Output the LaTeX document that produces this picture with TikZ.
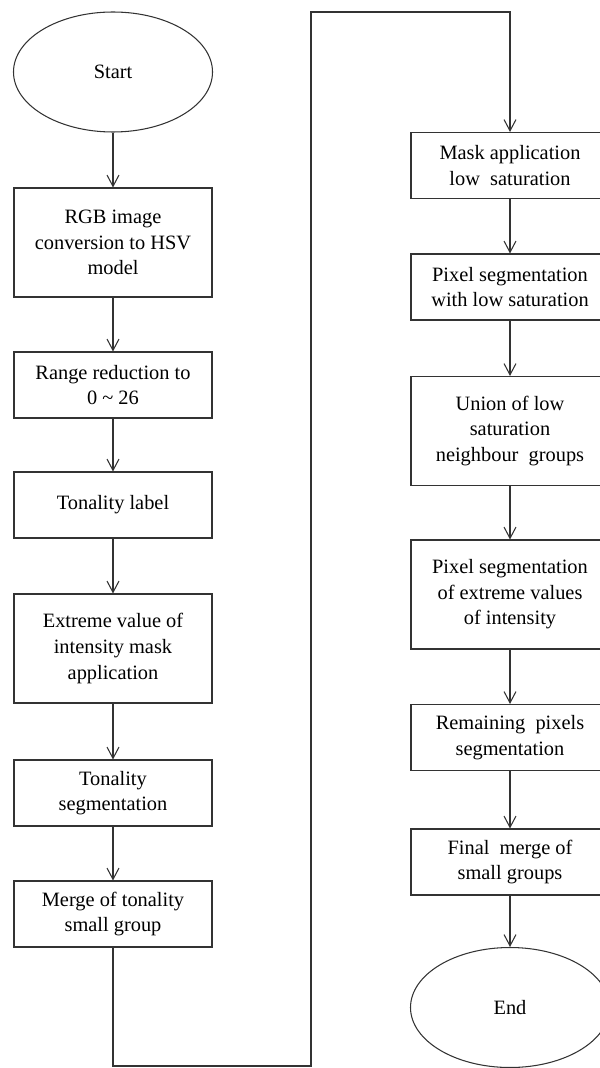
\documentclass[tikz,border=0pt]{standalone}
\usepackage{fontspec}
\setmainfont{Liberation Serif}
\usetikzlibrary{shapes.geometric,arrows.meta}
\tikzset{
  txt/.style={font=\fontsize{17.4}{21.8}\selectfont},
  box/.style={draw=black!80, line width=0.9pt, minimum width=59.4mm, minimum height=19.8mm, align=center, inner sep=0pt, txt},
  tallbox/.style={box, minimum height=32.7mm},
  term/.style={draw=black!80, line width=0.9pt, ellipse, minimum width=59.7mm, minimum height=36mm, inner sep=0pt, txt},
  flow/.style={draw=black!80, line width=0.9pt, -{Straight Barb[length=3.4mm,width=3.6mm]}}
}
\begin{document}
\begin{tikzpicture}[x=0.3mm,y=-0.3mm]
\useasboundingbox (0,0) rectangle (600,1068);
\clip (0,0) rectangle (600,1068);
\node[term] (start) at (113,72) {Start};
\node[tallbox] (rgb) at (113,242.5) {RGB image\\conversion to HSV\\model};
\draw[flow] (start) -- (rgb);
\node[box] (range) at (113,385) {Range reduction to\\0 \textasciitilde{} 26};
\draw[flow] (rgb) -- (range);
\node[box] (label) at (113,505) {Tonality label};
\draw[flow] (range) -- (label);
\node[tallbox] (extreme) at (113,648.5) {Extreme value of\\intensity mask\\application};
\draw[flow] (label) -- (extreme);
\node[box] (tonseg) at (113,793) {Tonality\\segmentation};
\draw[flow] (extreme) -- (tonseg);
\node[box] (merge) at (113,914) {Merge of tonality\\small group};
\draw[flow] (tonseg) -- (merge);

\coordinate (c1) at (113,1066);
\coordinate (c2) at (311,1066);
\coordinate (c3) at (311,12);
\coordinate (c4) at (510,12);

\node[box] (mask) at (510,165.5) {Mask application\\low\ \ saturation};
\draw[flow] (merge) -- (c1) -- (c2) -- (c3) -- (c4) -- (mask);
\node[box] (pixlow) at (510,287) {Pixel segmentation\\with low saturation};
\draw[flow] (mask) -- (pixlow);
\node[tallbox] (union) at (510,431) {Union of low\\saturation\\neighbour\ \ groups};
\draw[flow] (pixlow) -- (union);
\node[tallbox] (pixext) at (510,594.5) {Pixel segmentation\\of extreme values\\of intensity};
\draw[flow] (union) -- (pixext);
\node[box] (remain) at (510,737.5) {Remaining\ \ pixels\\segmentation};
\draw[flow] (pixext) -- (remain);
\node[box] (final) at (510,862) {Final\ \ merge of\\small groups};
\draw[flow] (remain) -- (final);
\node[term] (end) at (510,1007.5) {End};
\draw[flow] (final) -- (end);
\end{tikzpicture}
\end{document}
